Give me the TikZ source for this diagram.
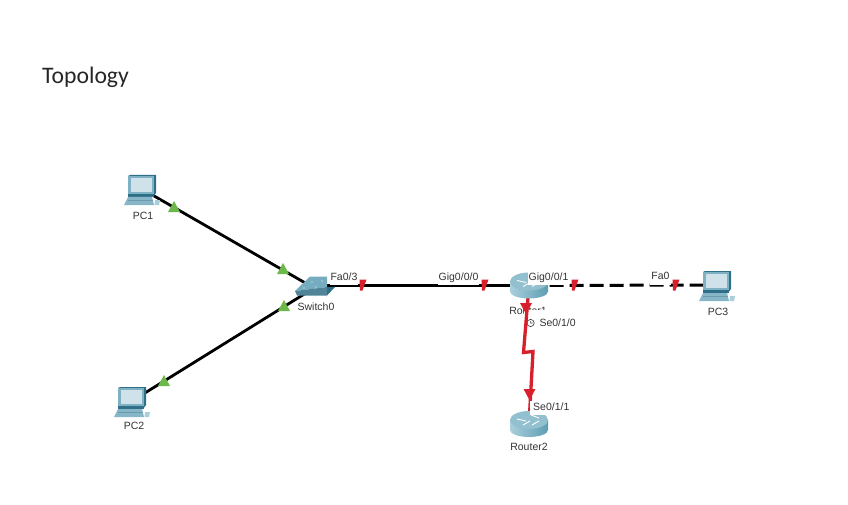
\documentclass[tikz,border=0pt]{standalone}
\usepackage{fontspec}
\setmainfont{Liberation Sans}
\newfontfamily\titlefont{Carlito}
\usetikzlibrary{positioning}
\definecolor{tealbody}{HTML}{5E9DB4}
\definecolor{tealdark}{HTML}{2F7088}
\definecolor{tealpale}{HTML}{A9CFDB}
\definecolor{tealkeys}{HTML}{86B6C7}
\definecolor{screenfill}{HTML}{CFE2E9}
\definecolor{linkred}{HTML}{D7202B}
\definecolor{upgreen}{HTML}{6CB84A}
\definecolor{labeltext}{HTML}{333333}
\tikzset{
 pics/pcicon/.style={code={
  \fill[tealdark] (-14,-13) -- (-12,-14) -- (14,-14) -- (14,4) -- (11,8) -- (-14,8) -- cycle;
  \fill[tealbody!80!white] (-14,-13) rectangle (12,5);
  \fill[screenfill] (-11,-11) rectangle (10,3);
  \fill[tealdark] (-12,5) rectangle (12,8);
  \fill[tealkeys] (-18,16) -- (-14,8) -- (10,8) -- (12,16) -- cycle;
  \fill[tealdark!70!white] (-14,10.5) rectangle (11,11.5);
  \fill[tealpale] (13,11) -- (18,11) -- (17,16) -- (12.5,16) -- cycle;
 }},
 pics/switchicon/.style={code={
  \fill[tealbody!85!white] (-19,3) -- (-4,-11.5) -- (13,-11.5) -- (13,-1) -- cycle;
  \fill[tealbody!85!black] (-19,3) -- (13,-1) -- (13,7.5) -- (-17,7.5) -- cycle;
  \fill[tealdark] (13,-1) -- (21,-1) -- (13,7.5) -- cycle;
  \fill[white] (-10,0) circle (0.6) (2,-1) circle (0.6) (-2,-6) circle (0.6) (8,-7) circle (0.6);
 }},
 pics/routericon/.style={code={
  \shade[left color=tealpale,middle color=tealdark!85!white,right color=tealbody] (-19,-4) -- (-19,6) arc[start angle=180,end angle=0,x radius=19,y radius=7] -- (19,-4) -- cycle;
  \fill[tealpale!70!tealbody] (0,-4) ellipse (19 and 9);
  \draw[white,line width=0.9] (-12,-5) -- (-3,-3) (2,-9) -- (10,-6) (-6,1) -- (1,-3) (3,1) -- (10,-3);
 }},
 pics/upmark/.style={code={\fill[upgreen] (-6,5) -- (0,-6) -- (6,5) -- cycle;}},
 pics/downmark/.style={code={\fill[linkred] (-2.5,-5.5) -- (4.5,-5.5) -- (0.5,5.5) -- (-2,5.5) -- cycle;}},
 pics/serialmark/.style={code={\fill[linkred] (-6,-5) -- (6,-5) -- (0,6) -- cycle;}},
}
\begin{document}
\begin{tikzpicture}[x=1pt,y=-1pt,
 dev/.style={inner sep=0pt,minimum size=1pt},
 link/.style={line width=2.8pt,black},
 dashlink/.style={line width=3pt,black,dash pattern=on 14pt off 6pt},
 serial/.style={line width=3.3pt,linkred},
 port/.style={font=\fontsize{10.5}{12}\selectfont,text=labeltext,fill=white,inner xsep=1pt,inner ysep=1.5pt,text height=7.5pt,text depth=3.5pt,anchor=south},
 devname/.style={font=\fontsize{10.5}{12}\selectfont,text=labeltext,inner sep=1pt}
]
\useasboundingbox (0,0) rectangle (848,505);
\fill[white] (0,0) rectangle (848,505);
\node[font=\titlefont\fontsize{23.7}{28}\selectfont,text=black!85,anchor=west,inner sep=0pt] (title) at (42,77) {Topology};
% device positions
\node[dev] (pc1) at (142,189) {};
\node[dev] (pc2) at (132,401) {};
\node[dev] (pc3) at (717,285) {};
\node[dev] (sw0) at (314,288) {};
\node[dev] (r1) at (529,285.5) {};
\node[dev] (r2) at (529,424) {};
\coordinate (kink1) at (523.5,352.5);
\coordinate (kink2) at (533,351.5);
% links
\draw[link] (pc1) -- (sw0);
\draw[link] (pc2) -- (sw0);
\draw[link] (sw0 |- r1) -- (r1);
\draw[dashlink] (r1) -- (pc3);
% device names
\node[devname] (r1name) at (528,311) {Router1};
\node[port,anchor=west,inner xsep=0pt,text height=14pt,inner ysep=2pt] (se010) at (524,320.75) {\kern2.5pt\tikz[baseline=-3pt,x=1pt,y=1pt]\draw[line width=0.6pt,labeltext] (0,0) circle (3.6) (0,2) -- (0,0) -- (2,0);\kern5pt Se0/1/0\kern1pt};
\draw[serial] (r1) -- (kink1) -- (kink2) -- (r2);
% icons
\pic at (pc1) {pcicon};
\pic at (pc2) {pcicon};
\pic at (pc3) {pcicon};
\pic at (sw0) {switchicon};
\pic at (r1) {routericon};
\pic at (r2) {routericon};
\node[devname] (pc1name) at (143,216) {PC1};
\node[devname] (pc2name) at (134,426) {PC2};
\node[devname] (pc3name) at (718,312) {PC3};
\node[devname] (sw0name) at (316,307) {Switch0};
\node[devname] (r2name) at (529,447) {Router2};
% port labels
\node[port] (fa03) at (344,285.5) {Fa0/3};
\node[port] (gig000) at (458.5,285.5) {Gig0/0/0};
\node[port] (gig001) at (548.5,285.5) {Gig0/0/1};
\node[port] (fa0) at (660.5,285) {Fa0};
\node[port,anchor=west,inner xsep=3.5pt] (se011) at (529.5,408) {Se0/1/1};
% link state marks
\pic at (174,207) {upmark};
\pic at (283,269) {upmark};
\pic at (284,306) {upmark};
\pic at (164,381) {upmark};
\pic at (362,285) {downmark};
\pic at (484,285) {downmark};
\pic at (574,285) {downmark};
\pic at (675,285) {downmark};
\pic at (526,308) {serialmark};
\pic at (529.5,394) {serialmark};
\end{tikzpicture}
\end{document}
